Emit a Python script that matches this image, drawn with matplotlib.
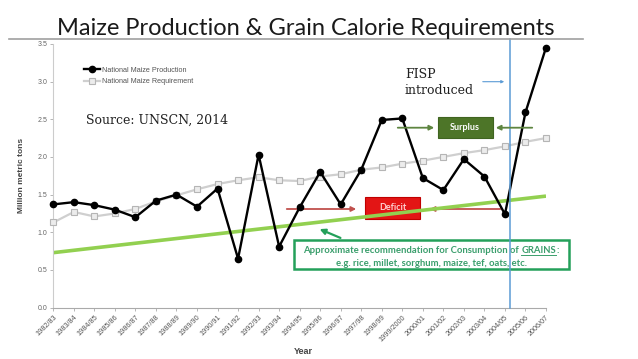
import matplotlib
matplotlib.use('Agg')
import matplotlib.pyplot as plt
from matplotlib.patches import Rectangle, FancyArrowPatch
from matplotlib.lines import Line2D
import matplotlib.transforms as mtrans

# ---- data ----
years = ['1982/83', '1983/84', '1984/85', '1985/86', '1986/87', '1987/88', '1988/89',
         '1989/90', '1990/91', '1991/92', '1992/93', '1993/94', '1994/95', '1995/96',
         '1996/97', '1997/98', '1998/99', '1999/2000', '2000/01', '2001/02', '2002/03',
         '2003/04', '2004/05', '2005/06', '2006/07']
production = [1.37, 1.40, 1.36, 1.30, 1.20, 1.42, 1.50, 1.34, 1.58, 0.65, 2.03, 0.81,
              1.33, 1.80, 1.37, 1.83, 2.49, 2.51, 1.72, 1.56, 1.97, 1.74, 1.24, 2.59, 3.45]
requirement = [1.13, 1.27, 1.21, 1.25, 1.31, 1.41, 1.49, 1.57, 1.64, 1.69, 1.73, 1.69,
               1.68, 1.74, 1.77, 1.83, 1.86, 1.91, 1.95, 2.00, 2.05, 2.09, 2.14, 2.20, 2.25]
recommendation = [0.73, 1.48]          # grain recommendation line, first & last year
y_ticks = [0.0, 0.5, 1.0, 1.5, 2.0, 2.5, 3.0, 3.5]
fisp_x = 22.24                          # FISP introduction marker (category index)

W, H = 638, 359
fig = plt.figure(figsize=(6.38, 3.59), dpi=100)


def fx(x):
    return x / W


def fy(y):
    return 1 - y / H


ax = fig.add_axes([fx(53.3), fy(307.7), fx(546) - fx(53.3), fy(43.8) - fy(307.7)])
xs = list(range(len(years)))
FT = fig.transFigure

ax.plot([xs[0], xs[-1]], recommendation, color='#92d050', lw=2.6, solid_capstyle='butt', zorder=2)
ax.plot(xs, requirement, color='#cfcfcf', lw=1.6, marker='s', markersize=5,
        markerfacecolor='#ececec', markeredgecolor='#b5b5b5', markeredgewidth=0.8,
        clip_on=False, zorder=3, label='National Maize Requirement')
ax.plot(xs, production, color='black', lw=1.7, marker='o', markersize=4.5,
        clip_on=False, zorder=4, label='National Maize Production')
ax.plot([fisp_x, fisp_x], [0, 3.56], color='#5b9bd5', lw=1.1, clip_on=False, zorder=5)

ax.set_xlim(0, len(years) - 1)
ax.set_ylim(0, 3.5)
ax.set_yticks(y_ticks)
ax.set_yticklabels([f'{v:.1f}' for v in y_ticks], fontsize=5, color='#666666',
                   family='Liberation Sans')
ax.set_xticks(xs)
ax.set_xticklabels(years, rotation=45, ha='right', rotation_mode='anchor',
                   fontsize=5.2, color='#555555', family='Liberation Sans')
ax.tick_params(axis='both', length=2.5, width=0.6, color='#aaaaaa', pad=2)
for s in ['top', 'right']:
    ax.spines[s].set_visible(False)
ax.spines['left'].set_color('#cccccc')
ax.spines['bottom'].set_color('#aaaaaa')
ax.spines['left'].set_linewidth(0.8)
ax.spines['bottom'].set_linewidth(0.8)

fig.text(fx(22), fy(175), 'Million metric tons', rotation=90, ha='center', va='center',
         fontsize=6, fontweight='bold', color='#444444', family='Liberation Sans')
fig.text(fx(303), fy(351), 'Year', ha='center', va='center',
         fontsize=6.5, fontweight='bold', color='#444444', family='Liberation Sans')

# legend
h, l = ax.get_legend_handles_labels()
leg = ax.legend(h[::-1], l[::-1], loc='upper left', bbox_to_anchor=(fx(80), fy(63)),
                bbox_transform=FT, frameon=False,
                handlelength=2.3, handletextpad=0.2, labelspacing=0.6, borderpad=0,
                prop={'family': 'Liberation Sans', 'size': 5.2})
for t in leg.get_texts():
    t.set_color('#555555')

# title & rule
fig.text(fx(306), fy(34.6), 'Maize Production & Grain Calorie Requirements', ha='center',
         va='baseline', fontsize=17, family='Lato', color='#1a1a1a')
fig.add_artist(Line2D([fx(9), fx(583)], [fy(39.3), fy(39.3)], color='#a0a0a0', lw=1.2))

# source and FISP text
fig.text(fx(86), fy(120), 'Source: UNSCN, 2014', ha='left', va='center', fontsize=9,
         family='DejaVu Serif', color='#222222')
fig.text(fx(405), fy(83), 'FISP\nintroduced', ha='left', va='center', fontsize=9,
         family='DejaVu Serif', color='#222222', linespacing=1.3)
fig.add_artist(FancyArrowPatch((fx(480), fy(81.7)), (fx(507), fy(81.7)),
                               transform=FT, arrowstyle='-|>', mutation_scale=4,
                               color='#5b9bd5', lw=0.8))

# surplus
fig.add_artist(Rectangle((fx(437.7), fy(138.3)), fx(492.7) - fx(437.7), fy(116.7) - fy(138.3),
                         transform=FT, facecolor='#4d7528', edgecolor='#3f6420',
                         lw=0.8, zorder=6))
fig.text(fx(465), fy(127.5), 'Surplus', ha='center', va='center', fontsize=6.5,
         fontweight='bold', color='white', family='Lato', zorder=7)
for a, b in [((395, 127.7), (437, 127.7)), ((535, 127.7), (493, 127.7))]:
    fig.add_artist(FancyArrowPatch((fx(a[0]), fy(a[1])), (fx(b[0]), fy(b[1])),
                                   transform=FT, arrowstyle='-|>',
                                   mutation_scale=7, color='#5e8540', lw=1.3, zorder=6))

# deficit (below the green recommendation line)
ax.add_artist(Rectangle((fx(365), fy(219)), fx(420) - fx(365), fy(197.3) - fy(219),
                        transform=FT, facecolor='#e31515', edgecolor='#c00000',
                        lw=0.8, zorder=1.5, clip_on=False))
ax.text(fx(392.5), fy(207.5), 'Deficit', ha='center', va='center', fontsize=6.5,
        fontweight='bold', color='#ffd0d0', family='Lato', zorder=1.6, transform=FT,
        clip_on=False)
for a, b in [((284, 209), (359, 209)), ((503, 209), (427, 209))]:
    ax.add_artist(FancyArrowPatch((fx(a[0]), fy(a[1])), (fx(b[0]), fy(b[1])),
                                  transform=FT, arrowstyle='-|>',
                                  mutation_scale=7, color='#c0504d', lw=1.3, zorder=1,
                                  clip_on=False))

# recommendation box (below the blue FISP line)
ax.add_artist(Rectangle((fx(293.5), fy(269.3)), fx(569) - fx(293.5), fy(240.5) - fy(269.3),
                        transform=FT, facecolor='white', edgecolor='#24a05a',
                        lw=1.8, zorder=4.5, clip_on=False))
ax.add_artist(FancyArrowPatch((fx(343), fy(239)), (fx(317), fy(228)),
                              transform=FT, arrowstyle='-|>',
                              mutation_scale=8, color='#24a05a', lw=1.6, zorder=4.5,
                              clip_on=False))
txt_kw = dict(fontsize=6.8, fontweight='bold', color='#3a9e6c', family='Lato', zorder=4.6,
              clip_on=False)
fig.canvas.draw()
renderer = fig.canvas.get_renderer()
p1 = 'Approximate recommendation for Consumption of '
p2 = 'GRAINS'
p3 = ':'
ident = mtrans.IdentityTransform()
tmp = [fig.text(0, 0, s, **txt_kw) for s in (p1, p2, p3)]
widths = [t.get_window_extent(renderer).width for t in tmp]
for t in tmp:
    t.remove()
total = sum(widths)
x0 = 431 - total / 2
ybase = H - 253
cur = x0
for s, w in zip((p1, p2, p3), widths):
    ax.text(cur, ybase, s, transform=ident, ha='left', va='baseline', **txt_kw)
    if s == p2:
        ax.add_artist(Line2D([cur, cur + w], [ybase - 1.5, ybase - 1.5], transform=ident,
                             color='#3a9e6c', lw=0.7, zorder=4.6, clip_on=False))
    cur += w
ax.text(fx(431), fy(265.5), 'e.g. rice, millet, sorghum, maize, tef, oats, etc.',
        ha='center', va='baseline', transform=FT, **txt_kw)

fig.savefig('out.png', dpi=100)
